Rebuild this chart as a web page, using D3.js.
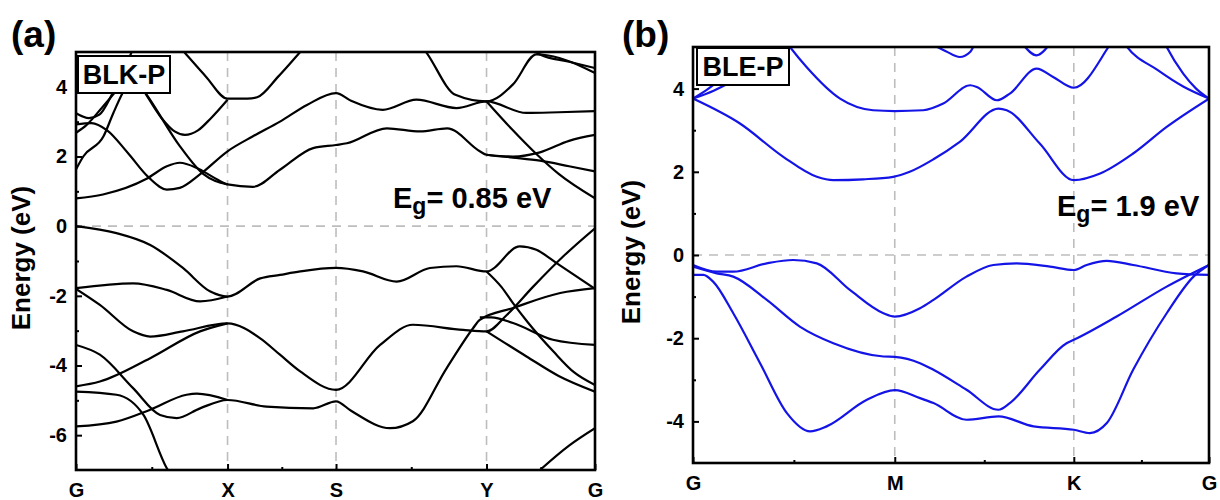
<!DOCTYPE html>
<html>
<head>
<meta charset="utf-8">
<script src="https://cdn.jsdelivr.net/npm/d3@7"></script>
<style>
  body { margin: 0; background: #fff; }
  text { font-family: Arial, "Liberation Sans", sans-serif; font-weight: bold; }
</style>
</head>
<body>
<svg id="chart" width="1220" height="500"></svg>
<script>
'use strict';

// ---- data: panel (a) BLK-P ----
const kptsA   = [0, 0.292, 0.501, 0.791, 1];
const klabA   = ['G', 'X', 'S', 'Y', 'G'];
const yTicksA = [-6, -4, -2, 0, 2, 4];
const bandsA_cb = [
  [[0,0.80],[0.052,0.91],[0.136,1.36],[0.175,1.72],[0.20,1.82],[0.233,1.67],[0.265,1.4],[0.292,1.2],[0.341,1.13],[0.393,1.62],[0.457,2.24],[0.501,2.33],[0.522,2.38],[0.599,2.81],[0.663,2.72],[0.715,2.81],[0.778,2.15],[0.791,2.05],[0.842,1.97],[0.894,1.88],[0.95,1.72],[1,1.57]],
  [[0.791,2.05],[0.842,2.0],[0.894,2.12],[0.95,2.45],[1,2.62]],
  [[0,2.92],[0.03,2.96],[0.06,2.75],[0.10,2.1],[0.14,1.4],[0.175,1.05],[0.2,1.1],[0.24,1.5],[0.292,2.15],[0.341,2.58],[0.393,3.0],[0.445,3.48],[0.501,3.82],[0.53,3.6],[0.591,3.34],[0.656,3.63],[0.733,3.39],[0.791,3.58],[0.868,3.25],[0.93,3.27],[1,3.3]],
  [[0.66,5.3],[0.676,4.97],[0.731,3.77],[0.791,3.58],[0.842,4.07],[0.887,4.93],[0.91,4.9],[1,4.4]],
  [[0.791,3.58],[0.84,2.78],[0.885,2.1],[0.93,1.5],[1,0.8]],
  [[0.87,5.2],[0.895,4.92],[0.95,4.72],[1,4.54]],
  [[0,2.68],[0.02,2.9],[0.05,3.4],[0.085,4.0],[0.11,4.35],[0.13,3.9],[0.165,3.1],[0.19,2.72],[0.21,2.62],[0.235,2.75],[0.26,3.1],[0.292,3.63]],
  [[0.19,5.3],[0.21,4.97],[0.25,4.3],[0.292,3.66],[0.33,3.66],[0.349,3.7],[0.39,4.3],[0.432,5.0],[0.45,5.3]],
  [[0,1.63],[0.014,2.0],[0.053,2.58],[0.072,3.25],[0.09,3.83],[0.105,4.2],[0.12,4.1],[0.135,3.8],[0.2,2.3],[0.245,1.5],[0.292,1.2]],
  [[0,3.24],[0.025,3.1],[0.045,3.2],[0.07,3.8],[0.09,4.4],[0.11,5.1]]
];
const bandsA_vb = [
  [[0,0],[0.078,-0.2],[0.143,-0.54],[0.206,-1.2],[0.258,-1.87],[0.292,-2.02],[0.355,-1.5],[0.393,-1.4],[0.432,-1.3],[0.501,-1.2],[0.553,-1.3],[0.618,-1.59],[0.682,-1.2],[0.733,-1.15],[0.791,-1.3],[0.855,-0.58],[0.887,-0.68],[0.926,-1.06],[1,-1.8]],
  [[0,-1.78],[0.110,-1.64],[0.175,-1.83],[0.239,-2.16],[0.292,-2.02]],
  [[0,-1.8],[0.046,-2.26],[0.110,-3.02],[0.143,-3.17],[0.206,-3.02],[0.292,-2.79],[0.355,-3.22],[0.393,-3.69],[0.432,-4.17],[0.501,-4.7],[0.586,-3.41],[0.649,-2.83],[0.746,-2.98],[0.791,-3.02],[0.83,-2.55],[0.88,-1.75],[0.94,-0.85],[1,-0.06]],
  [[0,-4.6],[0.046,-4.46],[0.143,-3.79],[0.239,-3.02],[0.292,-2.79]],
  [[0,-3.41],[0.046,-3.69],[0.110,-4.65],[0.162,-5.42],[0.194,-5.51],[0.239,-5.23],[0.292,-4.99],[0.367,-5.18],[0.457,-5.23],[0.501,-5.03],[0.53,-5.3],[0.605,-5.8],[0.649,-5.6],[0.714,-4.08],[0.765,-2.93],[0.778,-2.69],[0.842,-2.35],[0.933,-1.92],[1,-1.78]],
  [[0,-5.75],[0.078,-5.61],[0.143,-5.27],[0.213,-4.84],[0.233,-4.81],[0.292,-4.99]],
  [[0,-4.75],[0.078,-4.84],[0.130,-5.42],[0.175,-6.95],[0.19,-7.3]],
  [[0.791,-1.3],[0.82,-1.75],[0.842,-2.21],[0.87,-2.75],[0.92,-3.6],[0.96,-4.2],[1,-4.56]],
  [[0.791,-3.02],[0.868,-3.74],[0.93,-4.3],[1,-4.75]],
  [[0.778,-2.62],[0.80,-2.62],[0.842,-2.78],[0.919,-3.26],[1,-3.41]],
  [[0.894,-7.0],[0.95,-6.3],[1,-5.8]]
];

// ---- data: panel (b) BLE-P ----
const kptsB   = [0, 0.391, 0.738, 1];
const klabB   = ['G', 'M', 'K', 'G'];
const yTicksB = [-4, -2, 0, 2, 4];
const bandsB_cb = [
  [[0,3.76],[0.091,3.16],[0.175,2.36],[0.24,1.88],[0.272,1.80],[0.33,1.82],[0.388,1.88],[0.42,2.0],[0.466,2.3],[0.517,2.72],[0.592,3.52],[0.608,3.48],[0.672,2.68],[0.738,1.80],[0.789,1.96],[0.853,2.44],[0.918,3.08],[1,3.76]],
  [[0.17,5.3],[0.188,5.0],[0.22,4.52],[0.285,3.76],[0.349,3.48],[0.391,3.46],[0.446,3.48],[0.485,3.64],[0.537,4.08],[0.55,4.04],[0.589,3.72],[0.614,3.88],[0.666,4.48],[0.698,4.28],[0.738,4.02],[0.805,5.0],[0.82,5.3]],
  [[0.83,5.2],[0.84,5.02],[0.9,4.45],[0.95,4.05],[1,3.76]],
  [[0.91,5.2],[0.918,5.0],[0.95,4.36],[0.975,4.0],[1,3.76]],
  [[0.465,5.05],[0.49,4.9],[0.517,4.76],[0.537,4.88],[0.545,5.05]],
  [[0.64,5.05],[0.666,4.8],[0.69,5.05]],
  [[0,3.76],[0.04,3.95],[0.08,4.2]],
  [[0,3.76],[0.03,4.0],[0.06,4.3]]
];
const bandsB_vb = [
  [[0,-0.24],[0.046,-0.40],[0.078,-0.40],[0.143,-0.2],[0.194,-0.12],[0.24,-0.2],[0.304,-0.84],[0.369,-1.40],[0.391,-1.48],[0.44,-1.28],[0.466,-1.08],[0.53,-0.52],[0.582,-0.24],[0.627,-0.2],[0.692,-0.28],[0.738,-0.36],[0.763,-0.24],[0.802,-0.14],[0.853,-0.24],[0.937,-0.44],[1,-0.48]],
  [[0,-0.28],[0.046,-0.44],[0.078,-0.52],[0.143,-1.08],[0.207,-1.72],[0.272,-2.12],[0.369,-2.44],[0.391,-2.45],[0.44,-2.6],[0.466,-2.76],[0.53,-3.24],[0.592,-3.72],[0.614,-3.56],[0.672,-2.76],[0.724,-2.12],[0.738,-2.04],[0.821,-1.48],[0.918,-0.76],[1,-0.24]],
  [[0,-0.48],[0.02,-0.48],[0.039,-0.64],[0.078,-1.4],[0.13,-2.6],[0.182,-3.8],[0.227,-4.24],[0.259,-4.12],[0.337,-3.48],[0.391,-3.25],[0.44,-3.44],[0.466,-3.56],[0.53,-3.96],[0.592,-3.88],[0.66,-4.12],[0.738,-4.2],[0.769,-4.28],[0.802,-4.04],[0.853,-2.76],[0.918,-1.40],[0.97,-0.52],[1,-0.24]]
];

// ---- layout ----
const svg = d3.select('#chart');
const dashColor = '#bdbdbd';

const panels = [
  { id: 'a', letter: '(a)', name: 'BLK-P', gap: '0.85',
    left: 76, right: 595, top: 52, bottom: 470, ydom: [-7, 5],
    kpts: kptsA, klab: klabA, yticks: yTicksA, bands: bandsA_cb.concat(bandsA_vb), color: '#000',
    letterX: 11, titleX: 30, boxX: 78, boxY: 56, boxW: 92, boxH: 37, egX: 393, egY: 208 },
  { id: 'b', letter: '(b)', name: 'BLE-P', gap: '1.9',
    left: 693, right: 1209, top: 47, bottom: 463, ydom: [-5, 5],
    kpts: kptsB, klab: klabB, yticks: yTicksB, bands: bandsB_cb.concat(bandsB_vb), color: '#1414e6',
    letterX: 622, titleX: 640, boxX: 697, boxY: 48, boxW: 92, boxH: 37, egX: 1057, egY: 216 }
];

function drawPanel(p) {
  const x = d3.scaleLinear().domain([0, 1]).range([p.left, p.right]);
  const y = d3.scaleLinear().domain(p.ydom).range([p.bottom, p.top]);
  const g = svg.append('g');

  svg.append('clipPath').attr('id', 'clip-' + p.id)
    .append('rect')
    .attr('x', p.left).attr('y', p.top)
    .attr('width', p.right - p.left).attr('height', p.bottom - p.top);

  // dashed guides at inner k-points and at E = 0
  g.selectAll('line.vg').data(p.kpts.slice(1, -1)).join('line')
    .attr('x1', d => x(d)).attr('x2', d => x(d))
    .attr('y1', p.top).attr('y2', p.bottom)
    .attr('stroke', dashColor).attr('stroke-width', 1.6).attr('stroke-dasharray', '9,7');
  g.append('line')
    .attr('x1', p.left).attr('x2', p.right)
    .attr('y1', y(0)).attr('y2', y(0))
    .attr('stroke', dashColor).attr('stroke-width', 1.6).attr('stroke-dasharray', '9,7');

  // bands
  const line = d3.line().x(d => x(d[0])).y(d => y(d[1])).curve(d3.curveMonotoneX);
  g.append('g').attr('clip-path', 'url(#clip-' + p.id + ')')
    .selectAll('path').data(p.bands).join('path')
    .attr('d', line)
    .attr('fill', 'none').attr('stroke', p.color).attr('stroke-width', 2.2)
    .attr('stroke-linejoin', 'round');

  // axes (ticks pointing inward)
  const minorY = d3.range(Math.ceil(p.ydom[0]) + 1, p.ydom[1], 1).filter(v => Math.abs(v % 2) === 1);
  const minorX = p.kpts.slice(1).map((k, i) => (k + p.kpts[i]) / 2);

  g.append('g').attr('transform', 'translate(' + p.left + ',0)')
    .call(d3.axisLeft(y).tickValues(p.yticks).tickSize(-6).tickPadding(9).tickFormat(d => String(d)))
    .call(a => a.select('.domain').remove())
    .call(a => a.selectAll('line').attr('stroke-width', 2))
    .call(a => a.selectAll('text').attr('font-size', 20).attr('fill', '#000'));
  g.append('g').attr('transform', 'translate(' + p.left + ',0)')
    .call(d3.axisLeft(y).tickValues(minorY).tickSize(-3).tickFormat(''))
    .call(a => a.select('.domain').remove())
    .call(a => a.selectAll('line').attr('stroke-width', 2));

  g.append('g').attr('transform', 'translate(0,' + p.bottom + ')')
    .call(d3.axisBottom(x).tickValues(p.kpts).tickSize(-6).tickPadding(13).tickFormat((d, i) => p.klab[i]))
    .call(a => a.select('.domain').remove())
    .call(a => a.selectAll('line').attr('stroke-width', 2))
    .call(a => a.selectAll('text').attr('font-size', 20).attr('fill', '#000'));
  g.append('g').attr('transform', 'translate(0,' + p.bottom + ')')
    .call(d3.axisBottom(x).tickValues(minorX).tickSize(-3).tickFormat(''))
    .call(a => a.select('.domain').remove())
    .call(a => a.selectAll('line').attr('stroke-width', 2));

  // frame
  g.append('rect')
    .attr('x', p.left).attr('y', p.top)
    .attr('width', p.right - p.left).attr('height', p.bottom - p.top)
    .attr('fill', 'none').attr('stroke', '#000').attr('stroke-width', 2.6);

  // structure label box
  g.append('rect')
    .attr('x', p.boxX).attr('y', p.boxY).attr('width', p.boxW).attr('height', p.boxH)
    .attr('fill', '#fff').attr('stroke', '#000').attr('stroke-width', 2);
  g.append('text')
    .attr('x', p.boxX + p.boxW / 2).attr('y', p.boxY + 28)
    .attr('text-anchor', 'middle').attr('font-size', 27)
    .text(p.name);

  // band gap note
  const eg = g.append('text').attr('x', p.egX).attr('y', p.egY).attr('font-size', 29);
  eg.append('tspan').text('E');
  eg.append('tspan').attr('font-size', 23).attr('dy', 6).text('g');
  eg.append('tspan').attr('dy', -6).text('= ' + p.gap + ' eV');

  // panel letter
  g.append('text').attr('x', p.letterX).attr('y', 47)
    .attr('font-size', 37).text(p.letter);

  // y title
  g.append('text')
    .attr('transform', 'translate(' + p.titleX + ',' + ((p.top + p.bottom) / 2 - 3) + ') rotate(-90)')
    .attr('text-anchor', 'middle').attr('font-size', 26)
    .text('Energy (eV)');
}

panels.forEach(drawPanel);
</script>
</body>
</html>
